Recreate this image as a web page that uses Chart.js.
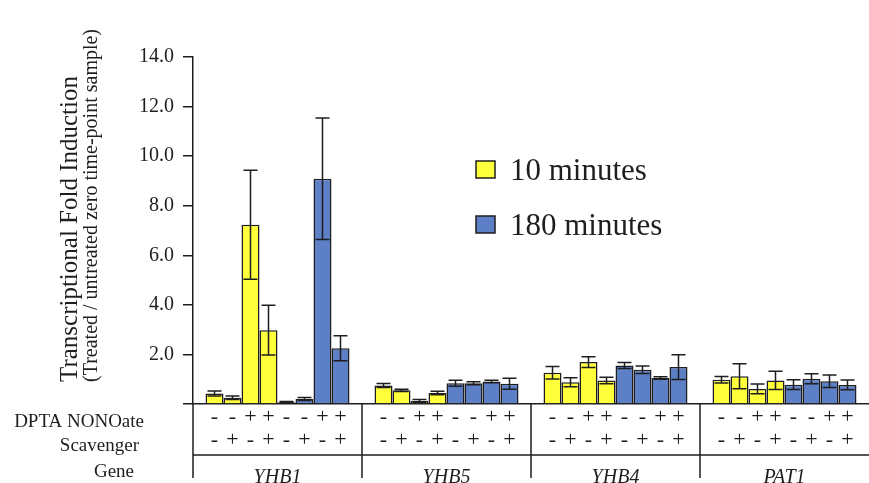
<!DOCTYPE html>
<html>
<head>
<meta charset="utf-8">
<script src="https://cdn.jsdelivr.net/npm/chart.js@4.4.1/dist/chart.umd.min.js"></script>
<style>
  html, body { margin: 0; padding: 0; background: #fff; overflow: hidden; }
  #wrap { width: 869px; height: 483px; }
</style>
</head>
<body>
<div id="wrap"><canvas id="chart" width="869" height="483"></canvas></div>
<script>
const genes = ['YHB1', 'YHB5', 'YHB4', 'PAT1']
const dpta = ['-', '-', '+', '+', '-', '-', '+', '+']
const scavenger = ['-', '+', '-', '+', '-', '+', '-', '+']
const yTicks = [0, 2, 4, 6, 8, 10, 12, 14]

// per gene: 4 conditions (--, -+, +-, ++)
const min10 = [[0.42, 0.25, 7.23, 2.98], [0.75, 0.55, 0.12, 0.44], [1.26, 0.88, 1.69, 0.95], [0.98, 1.12, 0.61, 0.95]]
const min10err = [[0.1, 0.07, 2.2, 1.0], [0.08, 0.05, 0.06, 0.07], [0.25, 0.18, 0.22, 0.13], [0.13, 0.5, 0.2, 0.37]]
const min180 = [[0.07, 0.2, 9.09, 2.25], [0.84, 0.84, 0.91, 0.82], [1.55, 1.38, 1.05, 1.49], [0.78, 1.02, 0.92, 0.77]]
const min180err = [[0.03, 0.06, 2.45, 0.5], [0.12, 0.06, 0.05, 0.22], [0.12, 0.15, 0.05, 0.5], [0.2, 0.2, 0.25, 0.2]]

const yellow = '#ffff3c'
const blue = '#5c7fc6'
const ink = '#1e1e1e'
const serif = "'Liberation Serif', 'Times New Roman', serif"

const datasets = []
for (let c = 0; c < 4; c++) {
  datasets.push({ label: '10 minutes', data: genes.map((g, i) => min10[i][c]), err: genes.map((g, i) => min10err[i][c]), backgroundColor: yellow })
}
for (let c = 0; c < 4; c++) {
  datasets.push({ label: '180 minutes', data: genes.map((g, i) => min180[i][c]), err: genes.map((g, i) => min180err[i][c]), backgroundColor: blue })
}
datasets.forEach(d => { d.borderColor = ink; d.borderWidth = 1.5; d.categoryPercentage = 0.852; d.barPercentage = 1.0 })

const extras = {
  id: 'extras',
  afterDatasetsDraw(chart) {
    const ctx = chart.ctx
    const y = chart.scales.y
    const area = chart.chartArea
    ctx.save()
    ctx.strokeStyle = ink
    ctx.lineWidth = 1.5
    // error bars
    chart.data.datasets.forEach((ds, di) => {
      chart.getDatasetMeta(di).data.forEach((bar, i) => {
        const v = ds.data[i], e = ds.err[i]
        const top = y.getPixelForValue(v + e), bot = y.getPixelForValue(Math.max(v - e, 0))
        ctx.beginPath()
        ctx.moveTo(bar.x, top); ctx.lineTo(bar.x, bot)
        ctx.moveTo(bar.x - 7, top); ctx.lineTo(bar.x + 7, top)
        ctx.moveTo(bar.x - 7, bot); ctx.lineTo(bar.x + 7, bot)
        ctx.stroke()
      })
    })
    // table under axis
    const x = chart.scales.x
    ctx.beginPath()
    ctx.moveTo(area.left, 455); ctx.lineTo(chart.width, 455)
    for (let i = 0; i < genes.length; i++) {
      const bx = i === 0 ? area.left : (x.getPixelForTick(i - 1) + x.getPixelForTick(i)) / 2
      ctx.moveTo(bx, area.bottom); ctx.lineTo(bx, 478)
    }
    ctx.stroke()
    ctx.fillStyle = ink
    ctx.textAlign = 'center'
    ctx.textBaseline = 'middle'
    ctx.font = '22px ' + serif
    chart.data.datasets.forEach((ds, di) => {
      chart.getDatasetMeta(di).data.forEach(bar => {
        ctx.fillText(dpta[di], bar.x, 417)
        ctx.fillText(scavenger[di], bar.x, 440)
      })
    })
    ctx.textAlign = 'right'
    ctx.font = '19px ' + serif
    ctx.fillText('DPTA NONOate', 144, 422)
    ctx.fillText('Scavenger', 139, 446)
    ctx.fillText('Gene', 134, 472)
    // y axis title
    ctx.save()
    ctx.translate(0, 382)
    ctx.rotate(-Math.PI / 2)
    ctx.textAlign = 'left'
    ctx.textBaseline = 'alphabetic'
    ctx.font = '25px ' + serif
    ctx.fillText('Transcriptional Fold Induction', 0, 77)
    ctx.font = '20px ' + serif
    ctx.fillText('(Treated / untreated zero time-point sample)', 0, 97)
    ctx.restore()
    // legend
    const items = [['10 minutes', yellow, 169], ['180 minutes', blue, 224]]
    ctx.textAlign = 'left'
    ctx.font = '31px ' + serif
    items.forEach(([label, col, cy]) => {
      ctx.fillStyle = col
      ctx.fillRect(476, cy - 8, 19, 17)
      ctx.strokeRect(476, cy - 8, 19, 17)
      ctx.fillStyle = ink
      ctx.fillText(label, 510, cy + 3)
    })
    ctx.restore()
  }
}

new Chart(document.getElementById('chart'), {
  type: 'bar',
  data: { labels: genes, datasets: datasets },
  options: {
    responsive: false,
    animation: false,
    layout: { padding: { top: 57, right: -5, left: 0, bottom: 0 } },
    plugins: { legend: { display: false }, tooltip: { enabled: false } },
    scales: {
      x: {
        grid: { display: false, drawTicks: false },
        border: { display: true, color: ink, width: 1.5 },
        ticks: { color: ink, padding: 62, font: { family: serif, size: 20, style: 'italic' } },
        afterFit(scale) { scale.height = 79 }
      },
      y: {
        min: 0,
        max: 14,
        afterBuildTicks(scale) { scale.ticks = yTicks.map(v => ({ value: v })) },
        ticks: {
          color: ink,
          padding: 9,
          font: { family: serif, size: 20 },
          callback: v => v === 0 ? '' : v.toFixed(1)
        },
        grid: { drawOnChartArea: false, tickLength: 10, color: ink, lineWidth: 1.5 },
        border: { display: true, color: ink, width: 1.5 },
        afterFit(scale) { scale.width = 193 }
      }
    }
  },
  plugins: [extras]
})
</script>
</body>
</html>
